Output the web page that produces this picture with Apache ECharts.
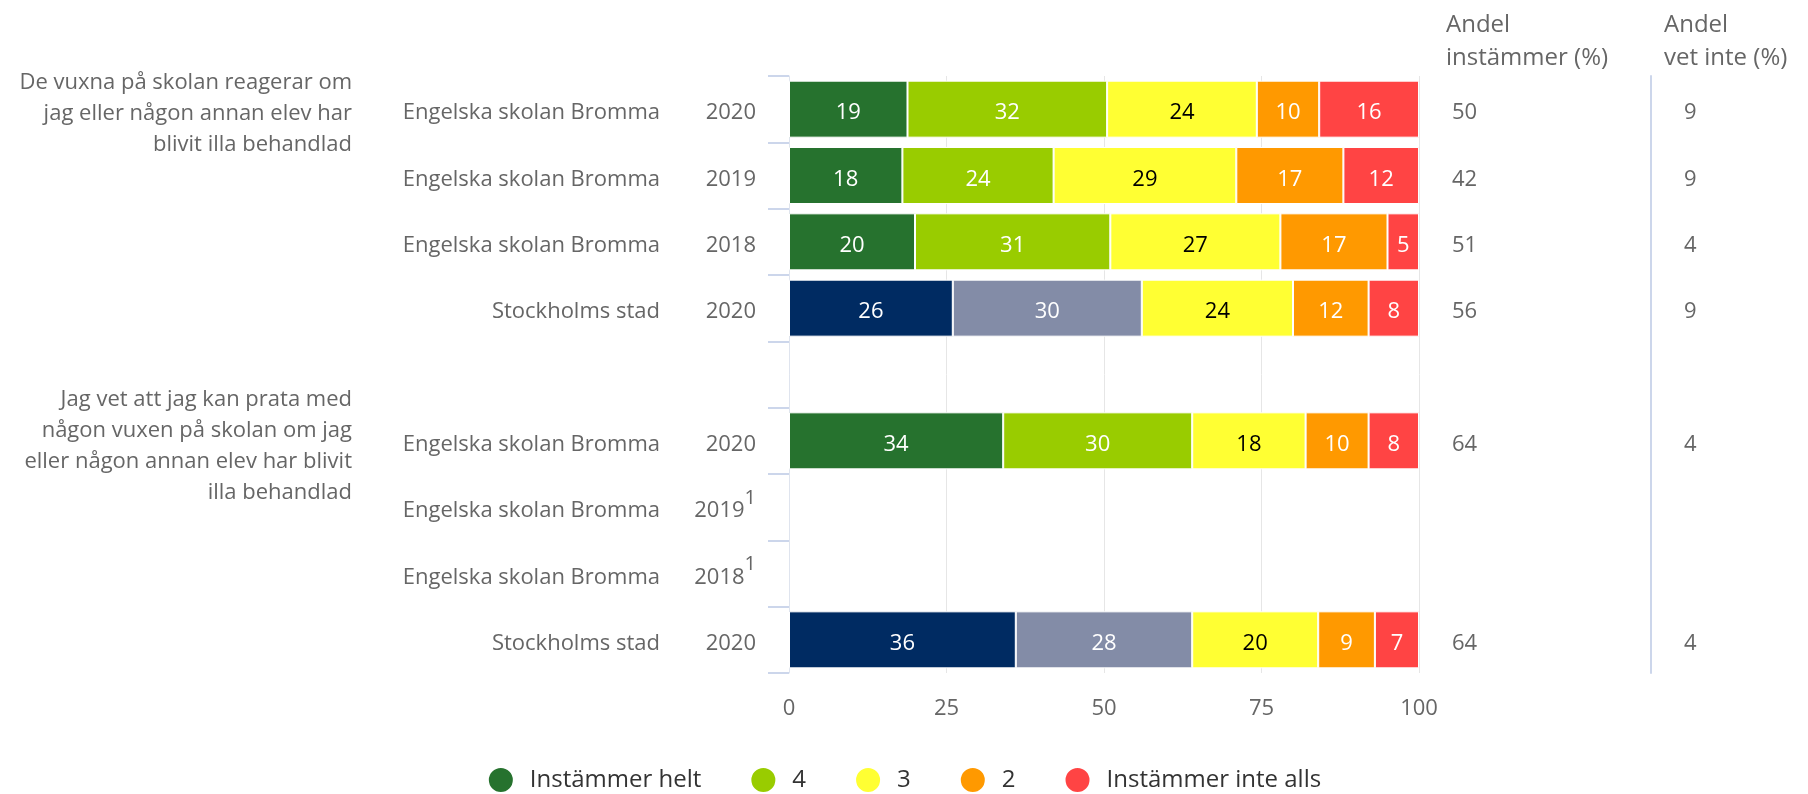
<!DOCTYPE html>
<html>
<head>
<meta charset="utf-8">
<script src="https://cdn.jsdelivr.net/npm/echarts@6/dist/echarts.min.js"></script>
<style>
  html, body { margin: 0; padding: 0; background: #fff; }
  #chart { width: 1808px; height: 794px; }
</style>
</head>
<body>
<div id="chart"></div>
<script>
// rader uppifrån, tom rad mellan frågorna
const questions = [
  'De vuxna på skolan reagerar om\njag eller någon annan elev har\nblivit illa behandlad', '', '', '', '',
  'Jag vet att jag kan prata med\nnågon vuxen på skolan om jag\neller någon annan elev har blivit\nilla behandlad', '', '', ''
]
const schools = [
  'Engelska skolan Bromma', 'Engelska skolan Bromma', 'Engelska skolan Bromma', 'Stockholms stad', '',
  'Engelska skolan Bromma', 'Engelska skolan Bromma', 'Engelska skolan Bromma', 'Stockholms stad'
]
const years = ['2020', '2019', '2018', '2020', '', '2020', '2019', '2018', '2020']
const footnotes = ['', '', '', '', '', '', '1', '1', '']
const isCity = [false, false, false, true, false, false, false, false, true]

const seriesNames = ['Instämmer helt', '4', '3', '2', 'Instämmer inte alls']
const helt = [19, 18, 20, 26, null, 34, null, null, 36]
const fyra = [32, 24, 31, 30, null, 30, null, null, 28]
const tre = [24, 29, 27, 24, null, 18, null, null, 20]
const tva = [10, 17, 17, 12, null, 10, null, null, 9]
const inteAlls = [16, 12, 5, 8, null, 8, null, null, 7]

const andelInstammer = [50, 42, 51, 56, null, 64, null, null, 64]
const andelVetInte = [9, 9, 4, 9, null, 4, null, null, 4]

const xTicks = [0, 25, 50, 75, 100]

const colors = ['#26722e', '#99cc00', '#ffff33', '#ff9900', '#ff4444']
const cityColors = ['#002b62', '#838ca7']
const labelColors = ['#fff', '#fff', '#000', '#fff', '#fff']
const font = 'Open Sans'
const grey = '#666'

const raw = [helt, fyra, tre, tva, inteAlls]
const rowIdx = years.map((_, i) => String(i))
// procentstapling som i originalet
const rowSum = rowIdx.map((_, i) => raw.reduce((s, arr) => s + (arr[i] || 0), 0))

// rich-stil med lite luft ovanför så att texten hamnar som i originalet
const low = (color) => ({ fontFamily: font, fontSize: 22, color: color, padding: [8, 0, 0, 0] })
const wrap = (s) => s === '' || s == null ? '' : `{t|${s}}`

const series = raw.map((arr, k) => ({
  name: seriesNames[k],
  type: 'bar',
  stack: 'total',
  barWidth: 57,
  itemStyle: { color: colors[k], borderColor: '#fff', borderWidth: 1 },
  label: {
    show: true,
    position: 'inside',
    formatter: p => wrap(arr[p.dataIndex]),
    rich: { t: low(labelColors[k]) }
  },
  emphasis: { disabled: true },
  data: arr.map((v, i) => {
    if (v == null) return '-'
    const item = { value: v / rowSum[i] * 100 }
    if (isCity[i] && k < 2) item.itemStyle = { color: cityColors[k] }
    return item
  })
}))

const baseAxis = {
  type: 'category',
  inverse: true,
  data: rowIdx,
  axisLine: { show: false },
  axisTick: { show: false },
  splitLine: { show: false }
}

const chart = echarts.init(document.getElementById('chart'))
chart.setOption({
  animation: false,
  textStyle: { fontFamily: font },
  title: [
    {
      text: 'Andel\ninstämmer (%)',
      left: 1446, top: 9, padding: 0,
      textStyle: { fontFamily: font, fontSize: 24, fontWeight: 'normal', color: grey, lineHeight: 33 }
    },
    {
      text: 'Andel\nvet inte (%)',
      left: 1664, top: 9, padding: 0,
      textStyle: { fontFamily: font, fontSize: 24, fontWeight: 'normal', color: grey, lineHeight: 33 }
    }
  ],
  legend: {
    bottom: -5,
    left: 'center',
    icon: 'circle',
    itemWidth: 26,
    itemHeight: 26,
    itemGap: 48,
    selectedMode: false,
    data: seriesNames,
    textStyle: { fontFamily: font, fontSize: 24, color: '#333', padding: [0, 0, 0, 11] }
  },
  grid: { left: 789, right: 389, top: 76, bottom: 121, containLabel: false },
  xAxis: {
    type: 'value',
    min: xTicks[0],
    max: xTicks[xTicks.length - 1],
    interval: 25,
    axisLine: { show: false },
    axisTick: { show: false },
    splitLine: { lineStyle: { color: '#e6e6e6', width: 1 } },
    axisLabel: { color: grey, fontFamily: font, fontSize: 22, margin: 25 }
  },
  yAxis: [
    Object.assign({}, baseAxis, {
      position: 'left',
      axisLine: { show: true, lineStyle: { color: '#dfe4ee' } },
      axisTick: { show: true, length: 21, lineStyle: { color: '#ccd6eb', width: 2 } },
      axisLabel: {
        interval: 0,
        margin: 33,
        formatter: (v, i) => footnotes[i] ? `{t|${years[i]}}{s|${footnotes[i]}}` : wrap(years[i]),
        rich: {
          t: low(grey),
          s: { fontFamily: font, fontSize: 20, color: grey, padding: [0, 0, 18, 0] }
        }
      }
    }),
    Object.assign({}, baseAxis, {
      position: 'left',
      axisLabel: {
        interval: 0, margin: 129,
        formatter: (v, i) => wrap(schools[i]),
        rich: { t: low(grey) }
      }
    }),
    Object.assign({}, baseAxis, {
      position: 'left',
      axisLabel: {
        interval: 0, margin: 437, align: 'right',
        formatter: (v, i) => questions[i].split('\n').map(line => `{q|${line}}`).join('\n'),
        rich: {
          q: { fontFamily: font, fontSize: 22, color: grey, lineHeight: 31, padding: [10, 0, 0, 0], align: 'right' }
        }
      }
    }),
    Object.assign({}, baseAxis, {
      position: 'right',
      axisLabel: {
        interval: 0, margin: 33,
        formatter: (v, i) => wrap(andelInstammer[i]),
        rich: { t: low(grey) }
      }
    }),
    Object.assign({}, baseAxis, {
      position: 'right',
      offset: 232,
      axisLine: { show: true, lineStyle: { color: '#ccd6eb', width: 2 } },
      axisLabel: {
        interval: 0, margin: 33,
        formatter: (v, i) => wrap(andelVetInte[i]),
        rich: { t: low(grey) }
      }
    })
  ],
  series: series
})
</script>
</body>
</html>
